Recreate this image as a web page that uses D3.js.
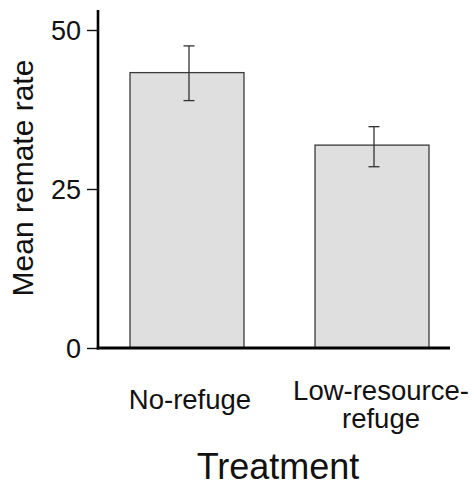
<!DOCTYPE html>
<html><head><meta charset="utf-8">
<script src="https://cdn.jsdelivr.net/npm/d3@7"></script>
<style>body{margin:0;background:#fff}svg{display:block}text{font-family:"Liberation Sans",Arial,sans-serif;fill:#111}</style>
</head><body>
<svg id="c" width="474" height="489"></svg>
<script>
const categories = ["No-refuge", "Low-resource-refuge"];
const categoryLines = [["No-refuge"], ["Low-resource-", "refuge"]];
const means = [43.3, 31.9];
const errUpper = [47.5, 34.8];
const errLower = [38.9, 28.5];
const yTicks = [0, 25, 50];
const xTitle = "Treatment";
const yTitle = "Mean remate rate";

const svg = d3.select("#c");
const y = d3.scaleLinear().domain([0, 50]).range([348, 30]);
const x = d3.scaleBand().domain(categories).range([98, 461]).paddingInner(0.384).paddingOuter(0.173);

// bars
svg.selectAll("rect.bar").data(categories).join("rect")
  .attr("x", d => x(d)).attr("width", x.bandwidth())
  .attr("y", (d, i) => y(means[i])).attr("height", (d, i) => y(0) - y(means[i]))
  .attr("fill", "#dfdfdf").attr("stroke", "#3a3a3a").attr("stroke-width", 1.3);

// error bars
const eb = svg.append("g").attr("stroke", "#333").attr("stroke-width", 1.3);
categories.forEach((c, i) => {
  const cx = x(c) + x.bandwidth() / 2 + 2;
  eb.append("line").attr("x1", cx).attr("x2", cx).attr("y1", y(errUpper[i])).attr("y2", y(errLower[i]));
  eb.append("line").attr("x1", cx - 5.5).attr("x2", cx + 5.5).attr("y1", y(errUpper[i])).attr("y2", y(errUpper[i]));
  eb.append("line").attr("x1", cx - 5.5).attr("x2", cx + 5.5).attr("y1", y(errLower[i])).attr("y2", y(errLower[i]));
});

// y axis
const ya = svg.append("g").attr("transform", "translate(98,0)")
  .call(d3.axisLeft(y).tickValues(yTicks).tickSize(11).tickPadding(6));
ya.select(".domain").remove();
ya.selectAll(".tick line").attr("stroke", "#111").attr("stroke-width", 1.4);
ya.selectAll(".tick text").attr("font-size", 27).attr("fill", "#111").attr("font-family", "Liberation Sans, Arial, sans-serif").attr("dy", "0.36em");
svg.append("line").attr("x1", 98).attr("x2", 98).attr("y1", 10).attr("y2", 349.5).attr("stroke", "#000").attr("stroke-width", 2.6);
svg.append("line").attr("x1", 96.7).attr("x2", 450).attr("y1", y(0)).attr("y2", y(0)).attr("stroke", "#000").attr("stroke-width", 2.8);

// category labels
categories.forEach((c, i) => {
  const lines = categoryLines[i];
  const cx = x(c) + x.bandwidth() / 2 + 3 + i * 6;
  const t = svg.append("text").attr("text-anchor", "middle").attr("font-size", 27.5)
    .attr("x", cx).attr("y", lines.length === 1 ? 409 : 400);
  lines.forEach((l, j) => t.append("tspan").attr("x", cx).attr("dy", j === 0 ? 0 : 28).text(l));
});

svg.append("text").attr("text-anchor", "middle").attr("font-size", 36)
  .attr("x", 278).attr("y", 479).text(xTitle);
svg.append("text").attr("text-anchor", "middle").attr("font-size", 30)
  .attr("transform", "translate(33,178) rotate(-90)").text(yTitle);
</script>
</body></html>
